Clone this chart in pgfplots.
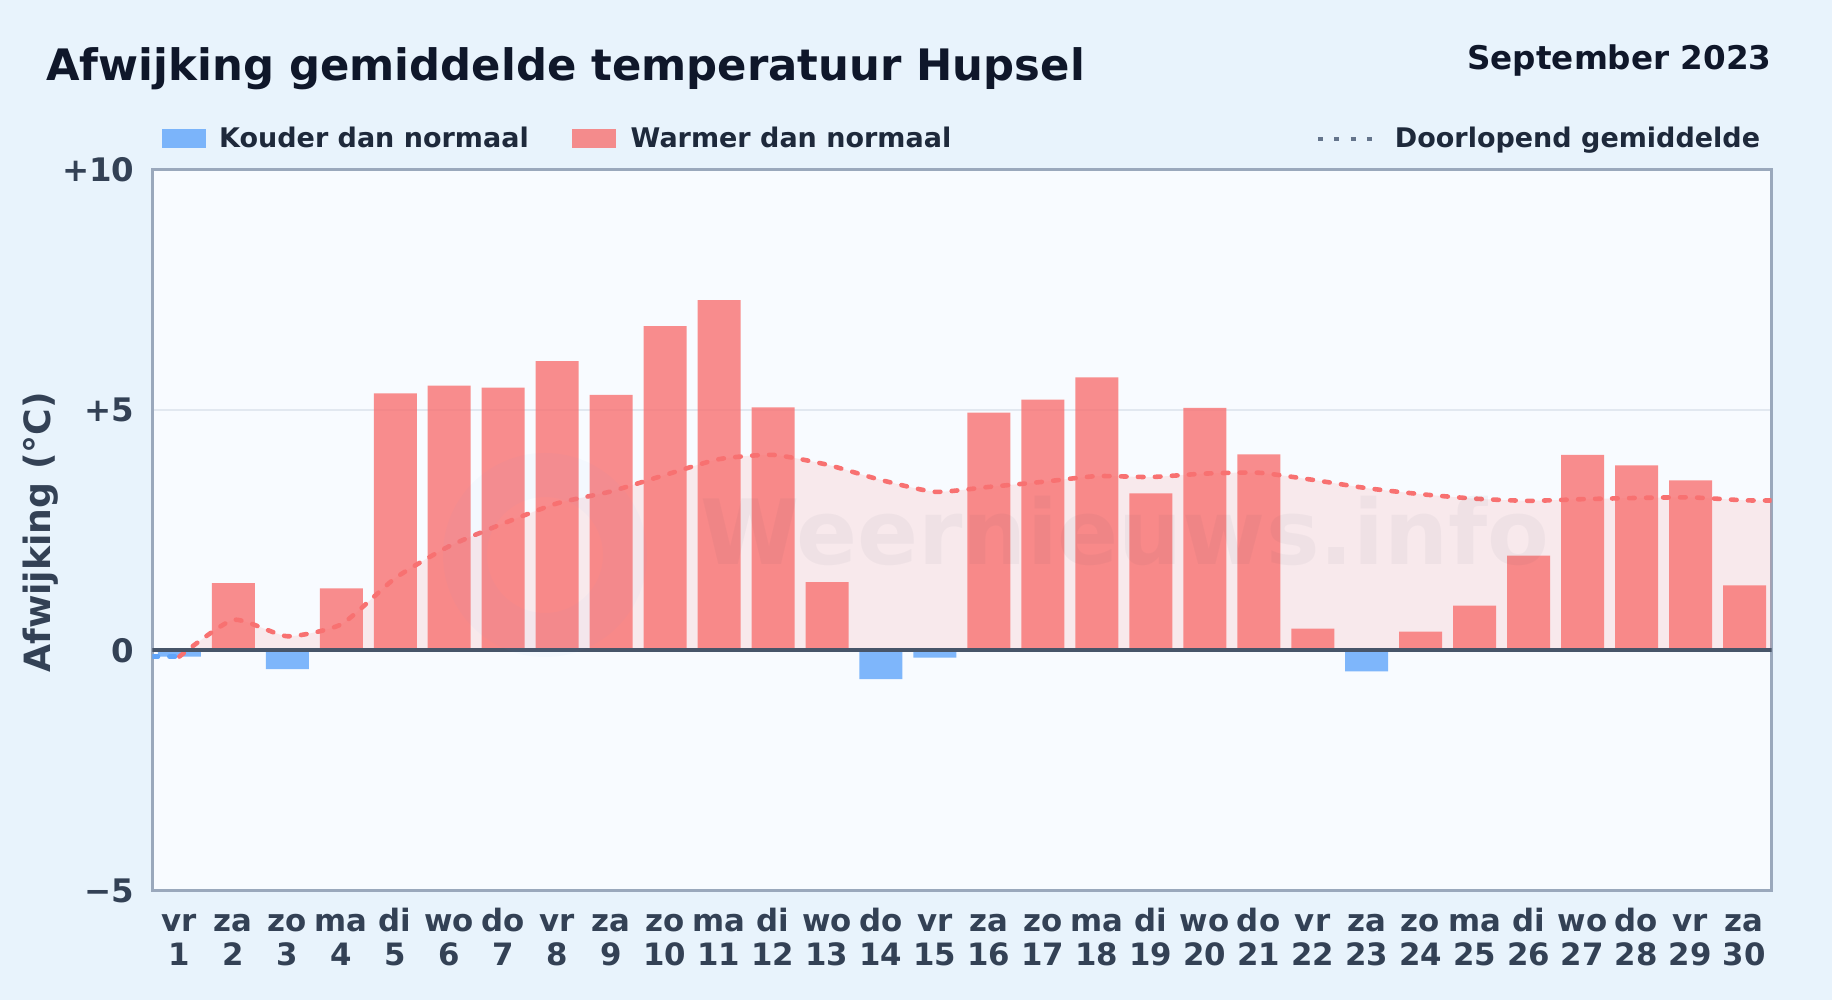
\documentclass[border=0pt]{standalone}
\usepackage{fontspec}
\setmainfont{DejaVu Sans}
\usepackage{pgfplots}
\pgfplotsset{compat=1.18}
\definecolor{pagebg}{HTML}{E8F3FC}
\definecolor{plotbg}{HTML}{F8FBFF}
\definecolor{frame}{HTML}{9AA8BC}
\definecolor{gridc}{HTML}{E2E8F0}
\definecolor{zeroc}{HTML}{475569}
\definecolor{tickc}{HTML}{334155}
\definecolor{titlec}{HTML}{0F172A}
\definecolor{legc}{HTML}{1E293B}
\definecolor{warm}{HTML}{F87171}
\definecolor{cold}{HTML}{60A5FA}
\definecolor{dotc}{HTML}{64748B}
\newcommand\dl[2]{\rule{0pt}{12pt}#1\\#2}
\begin{document}
\begin{tikzpicture}
\begin{scope}[x=0.5pt,y=-0.5pt,shift={(0pt,500pt)}]
\fill[pagebg] (0,0) rectangle (1832,1000);
\end{scope}
\begin{axis}[
  at={(76.2pt,54.75pt)},anchor=south west,scale only axis,
  width=809.55pt,height=360.25pt,
  xmin=0.5,xmax=30.5,ymin=-5,ymax=10,
  axis background/.style={fill=plotbg},
  axis line style={draw=frame,line width=1.5pt},
  major tick length=0pt,
  ytick={-5,0,5,10},yticklabels={−5,0,+5,+10},
  xtick={1,...,30},
  xticklabels={{\dl{vr}{1}},{\dl{za}{2}},{\dl{zo}{3}},{\dl{ma}{4}},{\dl{di}{5}},{\dl{wo}{6}},{\dl{do}{7}},{\dl{vr}{8}},{\dl{za}{9}},{\dl{zo}{10}},{\dl{ma}{11}},{\dl{di}{12}},{\dl{wo}{13}},{\dl{do}{14}},{\dl{vr}{15}},{\dl{za}{16}},{\dl{zo}{17}},{\dl{ma}{18}},{\dl{di}{19}},{\dl{wo}{20}},{\dl{do}{21}},{\dl{vr}{22}},{\dl{za}{23}},{\dl{zo}{24}},{\dl{ma}{25}},{\dl{di}{26}},{\dl{wo}{27}},{\dl{do}{28}},{\dl{vr}{29}},{\dl{za}{30}}},
  ymajorgrids,grid style={draw=gridc,line width=1pt},
  xticklabel style={align=center,text=tickc,inner sep=0pt,anchor=north,yshift=-8.3pt,xshift=-0.1pt,
    font=\fontsize{15.4}{17.25}\selectfont\bfseries},
  yticklabel style={text=tickc,inner sep=0pt,anchor=east,xshift=-8.75pt,
    font=\fontsize{16.2}{18}\selectfont\bfseries},
  ylabel={Afwijking (°C)},
  ylabel style={at={(axis description cs:-0.063,0.497)},anchor=base,inner sep=0pt,text=tickc,
    font=\fontsize{18.1}{20}\selectfont\bfseries},
  title={Afwijking gemiddelde temperatuur Hupsel},
  every axis title shift=0pt,
  title style={at={(axis description cs:-0.0657,1.1246)},anchor=base west,inner sep=0pt,yshift=0pt,text=titlec,
    font=\fontsize{21.67}{24}\selectfont\bfseries},
  legend columns=3,
  legend cell align=left,
  legend style={at={(axis description cs:0.0062,1.0316)},anchor=base west,draw=none,fill=none,inner sep=0pt,outer sep=0pt,
    font=\fontsize{13.5}{15}\selectfont\bfseries,text=legc,
    nodes={inner sep=0pt,outer sep=0pt,anchor=base west},
    /tikz/column 1/.style={column sep=6.6pt},
    /tikz/column 2/.style={column sep=21.7pt},
    /tikz/column 3/.style={column sep=7.5pt},
    /tikz/column 4/.style={column sep=182.25pt},
    /tikz/column 5/.style={column sep=10.4pt},
    /tikz/column 6/.style={column sep=0pt}},
]
% area under the running mean
\addplot[forget plot,draw=none,fill=warm,fill opacity=0.13,smooth,tension=0.35] coordinates {
(1,-0.13)(2,0.635)(3,0.293)(4,0.543)(5,1.504)(6,2.168)(7,2.64)(8,3.06)(9,3.309)(10,3.651)
(11,3.98)(12,4.069)(13,3.865)(14,3.546)(15,3.30)(16,3.402)(17,3.508)(18,3.627)(19,3.608)(20,3.679)
(21,3.697)(22,3.549)(23,3.376)(24,3.251)(25,3.158)(26,3.112)(27,3.147)(28,3.172)(29,3.184)(30,3.123)(30.5,3.12)
} \closedcycle;
% bars
\addplot[ybar,bar width=21.5pt,bar shift=0pt,draw=none,fill=cold,fill opacity=0.8,
  legend image code/.code={\fill[cold,fill opacity=0.8] (0,-0.5pt) rectangle (21.75pt,9pt);}] coordinates {
(1,-0.13)(3,-0.39)(14,-0.60)(15,-0.15)(23,-0.44)
};
\addlegendentry{Kouder dan normaal}
\addplot[ybar,bar width=21.5pt,bar shift=0pt,draw=none,fill=warm,fill opacity=0.8,
  legend image code/.code={\fill[warm,fill opacity=0.8] (0,-0.5pt) rectangle (21.75pt,9pt);}] coordinates {
(2,1.40)(4,1.29)(5,5.35)(6,5.51)(7,5.47)(8,6.02)(9,5.32)(10,6.75)(11,7.29)(12,5.06)
(13,1.42)(16,4.95)(17,5.22)(18,5.68)(19,3.27)(20,5.05)(21,4.08)(22,0.45)(24,0.39)(25,0.93)
(26,1.97)(27,4.07)(28,3.85)(29,3.54)(30,1.35)
};
\addlegendentry{Warmer dan normaal}
% running mean line
\addplot[forget plot,cold,line width=2.3pt,line cap=round,dash pattern=on 2.8pt off 5.7pt] coordinates {
(0.5,-0.13)(1,-0.13)
};
\addplot[warm,line width=2.3pt,line cap=round,dash pattern=on 2.8pt off 5.7pt,smooth,tension=0.35,
  legend image code/.code={\draw[dotc,line width=2pt,line cap=butt,dash pattern=on 2.6pt off 5.6pt] (0,4pt) -- (27.2pt,4pt);}] coordinates {
(1,-0.13)(2,0.635)(3,0.293)(4,0.543)(5,1.504)(6,2.168)(7,2.64)(8,3.06)(9,3.309)(10,3.651)
(11,3.98)(12,4.069)(13,3.865)(14,3.546)(15,3.30)(16,3.402)(17,3.508)(18,3.627)(19,3.608)(20,3.679)
(21,3.697)(22,3.549)(23,3.376)(24,3.251)(25,3.158)(26,3.112)(27,3.147)(28,3.172)(29,3.184)(30,3.123)(30.5,3.12)
};
\addlegendentry{Doorlopend gemiddelde}
% zero line
\addplot[forget plot,draw=zeroc,line width=2pt] coordinates {(0.5,0)(30.5,0)};
\end{axis}
\begin{scope}[x=0.5pt,y=-0.5pt,shift={(0pt,500pt)}]
\node[anchor=base east,inner sep=0pt,text=titlec,font=\fontsize{16.3}{18}\selectfont\bfseries] at (1772,70) {September 2023};
\node[anchor=base west,inner sep=0pt,text=tickc,opacity=0.045,font=\fontsize{45}{54}\selectfont\bfseries] at (700,565) {Weernieuws.info};
\draw[cold,line width=22pt,opacity=0.03] (545,555) circle (80);
\end{scope}
\end{tikzpicture}
\end{document}
